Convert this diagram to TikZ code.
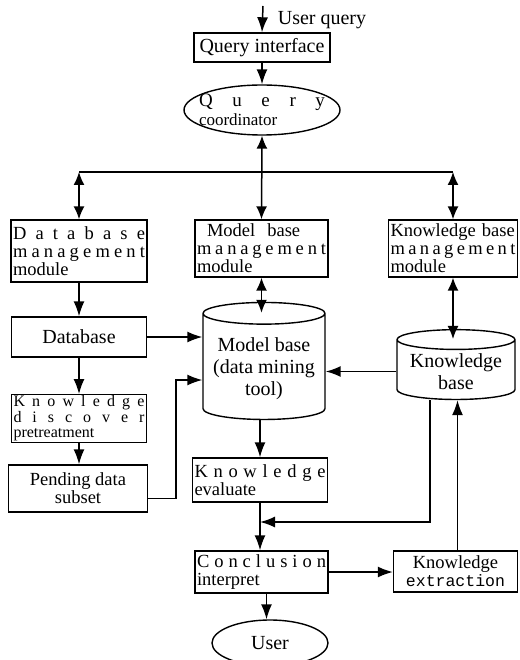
\documentclass[tikz,border=0pt]{standalone}
\usepackage{fontspec}
\setmainfont{Liberation Serif}
\setmonofont{Liberation Mono}
\usetikzlibrary{shapes.geometric, arrows.meta, positioning, calc}

% letters of a word spread over the whole line
\makeatletter
\newcommand\spreadout[1]{\makebox[\hsize][s]{\@tfor\ltr@item:=#1\do{\ltr@item\hfill}\unskip}}
\makeatother

\begin{document}
\begin{tikzpicture}[x=1pt, y=-1pt,
    modulebox/.style={draw, line width=1.4pt, inner xsep=2pt, inner ysep=1pt,
      font=\fontsize{18.5}{18}\selectfont, execute at begin node={\parindent=0pt}},
    datastore/.style={cylinder, shape border rotate=90, draw, line width=1.4pt,
      aspect=0.2, align=center, font=\fontsize{20}{22}\selectfont},
    terminal/.style={ellipse, draw, line width=1.4pt, font=\fontsize{20}{20}\selectfont},
    flow/.style={line width=1.5pt, -{Latex[length=15pt,width=11pt]}},
    twoway/.style={line width=1.5pt, {Latex[length=13pt,width=11pt]}-{Latex[length=13pt,width=11pt]}} ]
    \useasboundingbox (0,0) rectangle (519,660);

    % Query side
    \coordinate (uq) at (263,6);
    \node[font=\fontsize{20}{20}\selectfont] (uqlabel) at (322,20) {User query};
    \node[modulebox, minimum width=136pt, minimum height=29pt,
      font=\fontsize{20}{20}\selectfont] (qi) at (262,47.5) {Query interface};
    \node[terminal, minimum width=156pt, minimum height=50pt] (qc) at (262,110) {};
    \node[align=left, text width=126pt, inner sep=0pt,
      font=\fontsize{19}{19}\selectfont] (qctext) at (qc) {\spreadout{Query}\\
      {\fontsize{17}{17}\selectfont coordinator}};

    % Management modules
    \node[modulebox, text width=132pt, minimum height=62pt, align=left] (dbm) at (79,251)
    {\spreadout{Database}\\ \spreadout{management}\\ module};
    \node[modulebox, text width=129pt, minimum height=57pt, align=left] (mbm) at (261.5,248.5)
    {\hspace*{10pt}Model\hspace{12pt}base\\ \spreadout{management}\\ module};
    \node[modulebox, text width=125pt, minimum height=57pt, align=left] (kbm) at (453,248.5)
    {Knowledge base\\ \spreadout{management}\\ module};

    % Left column
    \node[modulebox, minimum width=135pt, minimum height=40pt,
      font=\fontsize{20}{20}\selectfont] (db) at (79,337) {Database};
    \node[modulebox, text width=131pt, minimum height=47pt, align=left,
      font=\fontsize{16}{15.5}\selectfont] (kdp) at (79,418.5)
    {\spreadout{Knowledge}\\ \spreadout{discover}\\ pretreatment};
    \node[modulebox, minimum width=139pt, minimum height=47pt, align=center] (pds) at (78,488.5)
    {Pending data\\ subset};

    % Stores
    \node[datastore, minimum width=122pt, minimum height=117pt] (mb) at (264,368.5)
    {Model base\\ (data mining\\ tool)};
    \node[datastore, minimum width=118pt, minimum height=63pt] (kb) at (456,371.5)
    {Knowledge\\ base};

    % Lower part
    \node[modulebox, text width=131pt, minimum height=44pt, align=left] (ke) at (260,480)
    {\spreadout{Knowledge}\\ evaluate};
    \node[modulebox, text width=129pt, minimum height=42pt, align=left] (ci) at (261.5,572)
    {\spreadout{Conclusion}\\ interpret};
    \node[modulebox, minimum width=124pt, minimum height=41pt, align=center] (kx) at (455.5,571.5)
    {Knowledge\\ {\ttfamily\fontsize{16.5}{16.5}\selectfont extraction}};
    \node[terminal, minimum width=116pt, minimum height=46pt] (user) at (270,643) {User};

    % Bus below the coordinator
    \coordinate (busl) at (79,172); \coordinate (busr) at (453,172);
    \draw[line width=1.5pt] (busl) -- (busr);
    \draw[twoway] (busl) -- (busl |- dbm.north);
    \draw[twoway] (busr) -- (busr |- kbm.north);
    \draw[twoway] (qc.south) -- (mbm.north);

    % Connectors
    \draw[flow] (uq) -- (qi.north);
    \draw[flow] (qi.south) -- (qc.north);
    \draw[flow] (dbm.south) -- (db.north);
    \draw[flow] (db.south) -- (kdp.north);
    \draw[flow] (kdp.south) -- (kdp.south |- pds.north);
    \draw[twoway] (mbm.south) -- ([yshift=-11pt]mbm.south |- mb.north);
    \draw[twoway] (kbm.south) -- ([yshift=-10pt]kbm.south |- kb.north);
    \draw[flow] (db.east) -- (db.east -| mb.west);
    \coordinate (pdsbend) at (176,380);
    \draw[flow] ([yshift=-10pt]pds.east) -| (pdsbend) -- (pdsbend -| mb.west);
    \draw[flow] (kb.west) -- (kb.west -| mb.east);
    \draw[flow] (mb.south -| ke.north) -- (ke.north);
    \draw[flow] (ke.south) -- (ke.south |- ci.north);
    \coordinate (kbbend) at (430,522);
    \draw[flow] (kbbend |- kb.south) -- (kbbend) -- (kbbend -| ke.south);
    \draw[flow] (ci.east) -- (ci.east -| kx.west);
    \draw[flow] ([xshift=2pt]kx.north) -- ([xshift=2pt]kx.north |- kb.south);
    \draw[flow] ([xshift=5pt]ci.south) -- ([xshift=5pt]ci.south |- user.north);
\end{tikzpicture}
\end{document}
